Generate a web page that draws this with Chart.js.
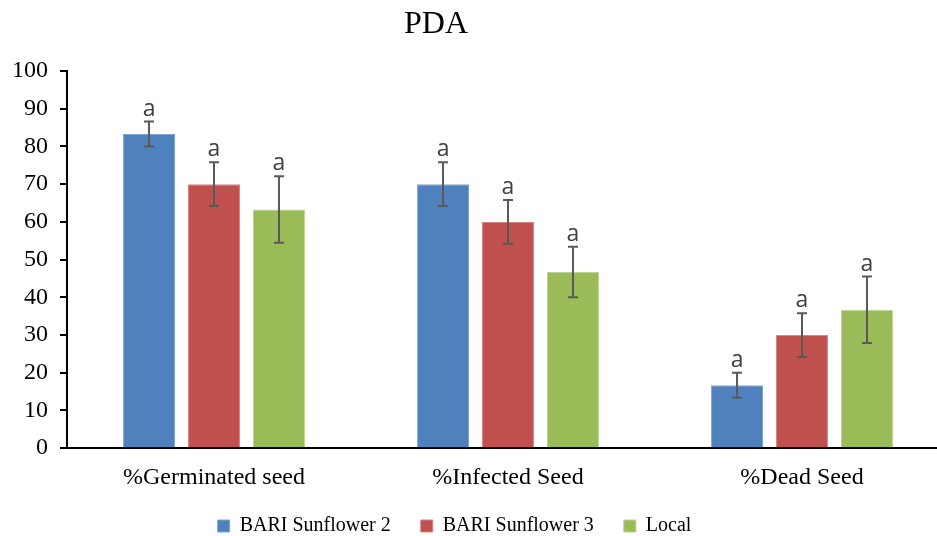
<html><head>
<meta charset="UTF-8">
<title>PDA</title>
<script src="https://cdn.jsdelivr.net/npm/chart.js"></script>
<style>
  body { margin: 0; background: #fff; overflow: hidden; }
  #wrap { width: 937px; height: 536px; overflow: hidden; }
</style>
</head>
<body>
<div id="wrap"><canvas id="pdaChart" width="949" height="536"></canvas></div>
<script>
const chartTitle = 'PDA';
const categories = ['%Germinated seed', '%Infected Seed', '%Dead Seed'];
const seriesNames = ['BARI Sunflower 2', 'BARI Sunflower 3', 'Local'];
const sunflower2 = [83.3, 70, 16.7];
const sunflower3 = [70, 60, 30];
const local = [63.3, 46.7, 36.7];
const err2 = [3.3, 5.8, 3.3];
const err3 = [5.8, 5.8, 5.8];
const errLocal = [8.8, 6.7, 8.8];
const letters2 = ['a', 'a', 'a'];
const letters3 = ['a', 'a', 'a'];
const lettersLocal = ['a', 'a', 'a'];
const yTicks = [0, 10, 20, 30, 40, 50, 60, 70, 80, 90, 100];

const serif = "'Liberation Serif', 'Times New Roman', serif";

// error bars + significance letters, positioned from the y scale
const errorBars = {
  id: 'errorBars',
  afterDatasetsDraw(chart) {
    const ctx = chart.ctx;
    const y = chart.scales.y;
    chart.data.datasets.forEach((ds, i) => {
      const meta = chart.getDatasetMeta(i);
      meta.data.forEach((bar, j) => {
        const v = ds.data[j], e = ds.errors[j];
        const top = y.getPixelForValue(v + e);
        const bot = y.getPixelForValue(v - e);
        ctx.save();
        ctx.strokeStyle = '#595959';
        ctx.lineWidth = 2;
        ctx.beginPath();
        ctx.moveTo(bar.x, top); ctx.lineTo(bar.x, bot);
        ctx.moveTo(bar.x - 5, top); ctx.lineTo(bar.x + 5, top);
        ctx.moveTo(bar.x - 5, bot); ctx.lineTo(bar.x + 5, bot);
        ctx.stroke();
        ctx.fillStyle = '#404040';
        ctx.font = "23px 'Open Sans', 'Liberation Sans', sans-serif";
        ctx.textAlign = 'center';
        ctx.textBaseline = 'alphabetic';
        ctx.fillText(ds.letters[j], bar.x, top - 6);
        ctx.restore();
      });
    });
  }
};

// title sits a little left of centre in the original
const titlePlugin = {
  id: 'titleText',
  afterDraw(chart) {
    const ctx = chart.ctx;
    ctx.save();
    ctx.fillStyle = '#000';
    ctx.font = '32px ' + serif;
    ctx.textAlign = 'center';
    ctx.textBaseline = 'alphabetic';
    ctx.fillText(chartTitle, 436, 33);
    ctx.restore();
  }
};

new Chart(document.getElementById('pdaChart'), {
  type: 'bar',
  data: {
    labels: categories,
    datasets: [
      { label: seriesNames[0], data: sunflower2, errors: err2, letters: letters2,
        backgroundColor: '#4F81BD', borderColor: '#7FA3D3', borderWidth: 1 },
      { label: seriesNames[1], data: sunflower3, errors: err3, letters: letters3,
        backgroundColor: '#C0504D', borderColor: '#D68582', borderWidth: 1 },
      { label: seriesNames[2], data: local, errors: errLocal, letters: lettersLocal,
        backgroundColor: '#9BBB59', borderColor: '#BCD38E', borderWidth: 1 }
    ]
  },
  options: {
    responsive: false,
    animation: false,
    layout: { padding: { left: 0, right: 0, top: 71, bottom: -10 } },
    categoryPercentage: 0.663,
    barPercentage: 0.8,
    plugins: {
      title: { display: false },
      legend: {
        position: 'bottom',
        labels: {
          color: '#000', boxWidth: 12, boxHeight: 12, padding: 0,
          font: { family: serif, size: 20 },
          generateLabels(chart) {
            const items = Chart.defaults.plugins.legend.labels.generateLabels(chart);
            items.forEach((it, k) => { it.text += (k < items.length - 1) ? '\u2003\u2002' : '\u2003\u2003'; });
            return items;
          }
        }
      },
      tooltip: { enabled: false }
    },
    scales: {
      x: {
        afterFit: (axis) => { axis.height += 17; },
        grid: { display: false },
        border: { display: true, color: '#000', width: 2 },
        ticks: { color: '#000', padding: 7, font: { family: serif, size: 24 } }
      },
      y: {
        min: 0, max: 100,
        afterBuildTicks: (axis) => { axis.ticks = yTicks.map(v => ({ value: v })); },
        grid: { display: true, drawOnChartArea: false, color: '#000', lineWidth: 2, tickLength: 7 },
        border: { display: true, color: '#000', width: 2 },
        ticks: { color: '#000', padding: 12, font: { family: serif, size: 24 } }
      }
    }
  },
  plugins: [errorBars, titlePlugin]
});
</script>
</body></html>
